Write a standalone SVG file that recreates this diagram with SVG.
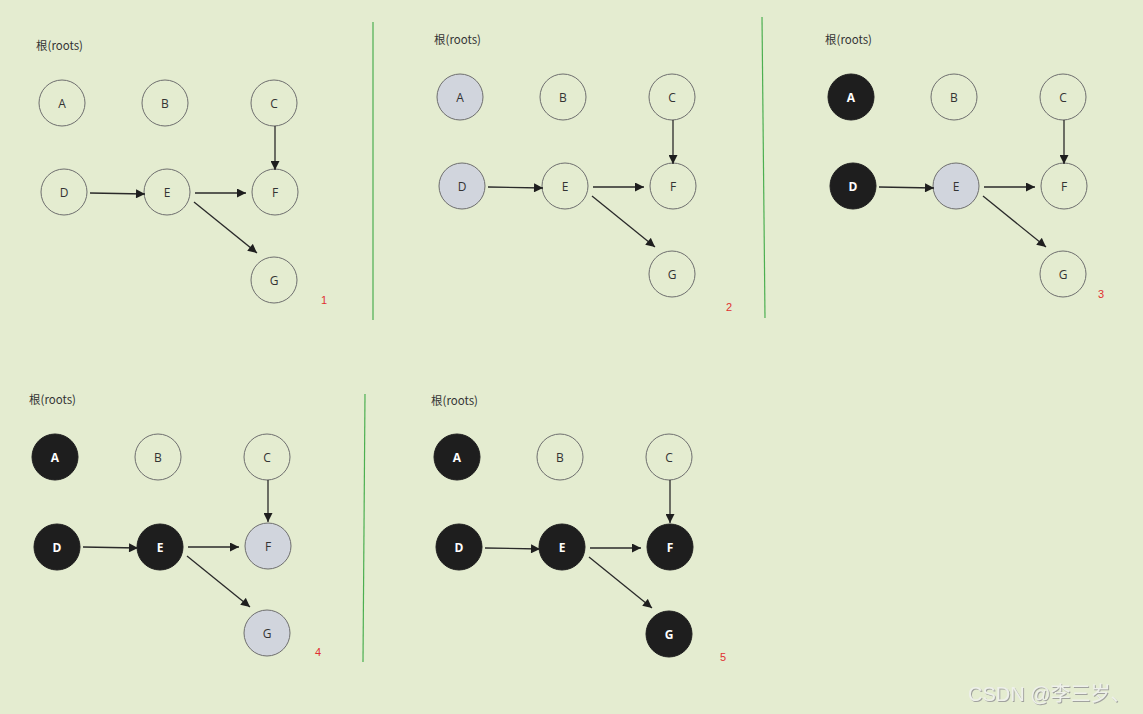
<svg xmlns="http://www.w3.org/2000/svg" width="1143" height="714" viewBox="0 0 1143 714">
<defs>
<marker id="arr" viewBox="0 0 10 10" refX="10" refY="5" markerWidth="10" markerHeight="9" markerUnits="userSpaceOnUse" orient="auto">
<path d="M0,0 L10,5 L0,10 z" fill="#1e1e1e"/>
</marker>
<filter id="sh" x="-5%" y="-20%" width="110%" height="140%">
<feDropShadow dx="1" dy="1" stdDeviation="0.6" flood-color="#9a9a9a" flood-opacity="0.9"/>
</filter>
</defs>
<style>
.n circle{stroke:#6e6e6e;stroke-width:1;fill:none}
.g circle{fill:#d1d5dd}
.k circle{fill:#1e1e1e;stroke:#1e1e1e}
.n text{font-family:"Open Sans","Liberation Sans",sans-serif;font-size:12px;fill:#333;text-anchor:middle;dominant-baseline:central}
.k text{fill:#fff;font-weight:bold}
.lbl{font-family:"Noto Sans CJK SC","Noto Sans","Liberation Sans",sans-serif;font-size:11.5px;fill:#333}
.num{font-family:"Liberation Sans",sans-serif;font-size:11px;fill:#e03030}
.e{stroke:#2a2a2a;stroke-width:1.3;fill:none;marker-end:url(#arr)}
.sep{stroke:#4caf50;stroke-width:1.2}
</style>
<rect width="1143" height="714" fill="#e4ecd0"/>

<g id="separators">
<line class="sep" x1="373" y1="22" x2="373" y2="320"/>
<line class="sep" x1="762" y1="17" x2="765" y2="318"/>
<line class="sep" x1="365" y1="394" x2="363" y2="662"/>
</g>

<!-- Panel 1 -->
<g id="p1">
<text class="lbl" x="36" y="50">根(roots)</text>
<text class="num" x="321" y="304">1</text>
<g id="p1-A" class="n"><circle cx="62" cy="103" r="23"/><text x="62" y="103">A</text></g>
<g id="p1-B" class="n"><circle cx="165" cy="103" r="23"/><text x="165" y="103">B</text></g>
<g id="p1-C" class="n"><circle cx="274" cy="103" r="23"/><text x="274" y="103">C</text></g>
<g id="p1-D" class="n"><circle cx="64" cy="192" r="23"/><text x="64" y="192">D</text></g>
<g id="p1-E" class="n"><circle cx="167" cy="192" r="23"/><text x="167" y="192">E</text></g>
<g id="p1-F" class="n"><circle cx="275" cy="192" r="23"/><text x="275" y="192">F</text></g>
<g id="p1-G" class="n"><circle cx="274" cy="280" r="23"/><text x="274" y="280">G</text></g>
<g id="p1-edges">
<line class="e" x1="90" y1="193" x2="145" y2="194"/>
<line class="e" x1="195" y1="193" x2="246" y2="193"/>
<line class="e" x1="275" y1="126" x2="275" y2="170"/>
<line class="e" x1="194" y1="202" x2="257" y2="253"/>
</g>
</g>

<!-- Panel 2 -->
<g id="p2">
<text class="lbl" x="434" y="44">根(roots)</text>
<text class="num" x="726" y="311">2</text>
<g id="p2-A" class="n g"><circle cx="460" cy="97" r="23"/><text x="460" y="97">A</text></g>
<g id="p2-B" class="n"><circle cx="563" cy="97" r="23"/><text x="563" y="97">B</text></g>
<g id="p2-C" class="n"><circle cx="672" cy="97" r="23"/><text x="672" y="97">C</text></g>
<g id="p2-D" class="n g"><circle cx="462" cy="186" r="23"/><text x="462" y="186">D</text></g>
<g id="p2-E" class="n"><circle cx="565" cy="186" r="23"/><text x="565" y="186">E</text></g>
<g id="p2-F" class="n"><circle cx="673" cy="186" r="23"/><text x="673" y="186">F</text></g>
<g id="p2-G" class="n"><circle cx="672" cy="274" r="23"/><text x="672" y="274">G</text></g>
<g id="p2-edges">
<line class="e" x1="488" y1="187" x2="543" y2="188"/>
<line class="e" x1="593" y1="187" x2="644" y2="187"/>
<line class="e" x1="673" y1="120" x2="673" y2="164"/>
<line class="e" x1="592" y1="196" x2="655" y2="247"/>
</g>
</g>

<!-- Panel 3 -->
<g id="p3">
<text class="lbl" x="825" y="44">根(roots)</text>
<text class="num" x="1098" y="298">3</text>
<g id="p3-A" class="n k"><circle cx="851" cy="97" r="23"/><text x="851" y="97">A</text></g>
<g id="p3-B" class="n"><circle cx="954" cy="97" r="23"/><text x="954" y="97">B</text></g>
<g id="p3-C" class="n"><circle cx="1063" cy="97" r="23"/><text x="1063" y="97">C</text></g>
<g id="p3-D" class="n k"><circle cx="853" cy="186" r="23"/><text x="853" y="186">D</text></g>
<g id="p3-E" class="n g"><circle cx="956" cy="186" r="23"/><text x="956" y="186">E</text></g>
<g id="p3-F" class="n"><circle cx="1064" cy="186" r="23"/><text x="1064" y="186">F</text></g>
<g id="p3-G" class="n"><circle cx="1063" cy="274" r="23"/><text x="1063" y="274">G</text></g>
<g id="p3-edges">
<line class="e" x1="879" y1="187" x2="934" y2="188"/>
<line class="e" x1="984" y1="187" x2="1035" y2="187"/>
<line class="e" x1="1064" y1="120" x2="1064" y2="164"/>
<line class="e" x1="983" y1="196" x2="1046" y2="247"/>
</g>
</g>

<!-- Panel 4 -->
<g id="p4">
<text class="lbl" x="29" y="404">根(roots)</text>
<text class="num" x="315" y="656">4</text>
<g id="p4-A" class="n k"><circle cx="55" cy="457" r="23"/><text x="55" y="457">A</text></g>
<g id="p4-B" class="n"><circle cx="158" cy="457" r="23"/><text x="158" y="457">B</text></g>
<g id="p4-C" class="n"><circle cx="267" cy="457" r="23"/><text x="267" y="457">C</text></g>
<g id="p4-D" class="n k"><circle cx="57" cy="547" r="23"/><text x="57" y="547">D</text></g>
<g id="p4-E" class="n k"><circle cx="160" cy="547" r="23"/><text x="160" y="547">E</text></g>
<g id="p4-F" class="n g"><circle cx="268" cy="546" r="23"/><text x="268" y="546">F</text></g>
<g id="p4-G" class="n g"><circle cx="267" cy="633" r="23"/><text x="267" y="633">G</text></g>
<g id="p4-edges">
<line class="e" x1="83" y1="547" x2="138" y2="548"/>
<line class="e" x1="188" y1="547" x2="239" y2="547"/>
<line class="e" x1="268" y1="480" x2="268" y2="522"/>
<line class="e" x1="187" y1="556" x2="250" y2="607"/>
</g>
</g>

<!-- Panel 5 -->
<g id="p5">
<text class="lbl" x="431" y="405">根(roots)</text>
<text class="num" x="720" y="661">5</text>
<g id="p5-A" class="n k"><circle cx="457" cy="457" r="23"/><text x="457" y="457">A</text></g>
<g id="p5-B" class="n"><circle cx="560" cy="457" r="23"/><text x="560" y="457">B</text></g>
<g id="p5-C" class="n"><circle cx="669" cy="457" r="23"/><text x="669" y="457">C</text></g>
<g id="p5-D" class="n k"><circle cx="459" cy="547" r="23"/><text x="459" y="547">D</text></g>
<g id="p5-E" class="n k"><circle cx="562" cy="547" r="23"/><text x="562" y="547">E</text></g>
<g id="p5-F" class="n k"><circle cx="670" cy="547" r="23"/><text x="670" y="547">F</text></g>
<g id="p5-G" class="n k"><circle cx="669" cy="634" r="23"/><text x="669" y="634">G</text></g>
<g id="p5-edges">
<line class="e" x1="485" y1="548" x2="540" y2="549"/>
<line class="e" x1="590" y1="548" x2="641" y2="548"/>
<line class="e" x1="670" y1="480" x2="670" y2="523"/>
<line class="e" x1="589" y1="557" x2="652" y2="608"/>
</g>
</g>

<text x="968" y="701" filter="url(#sh)" style="font-family:'Liberation Sans','Noto Sans CJK SC',sans-serif;font-size:20px;fill:#eef0ea">CSDN @李三岁、</text>
</svg>
